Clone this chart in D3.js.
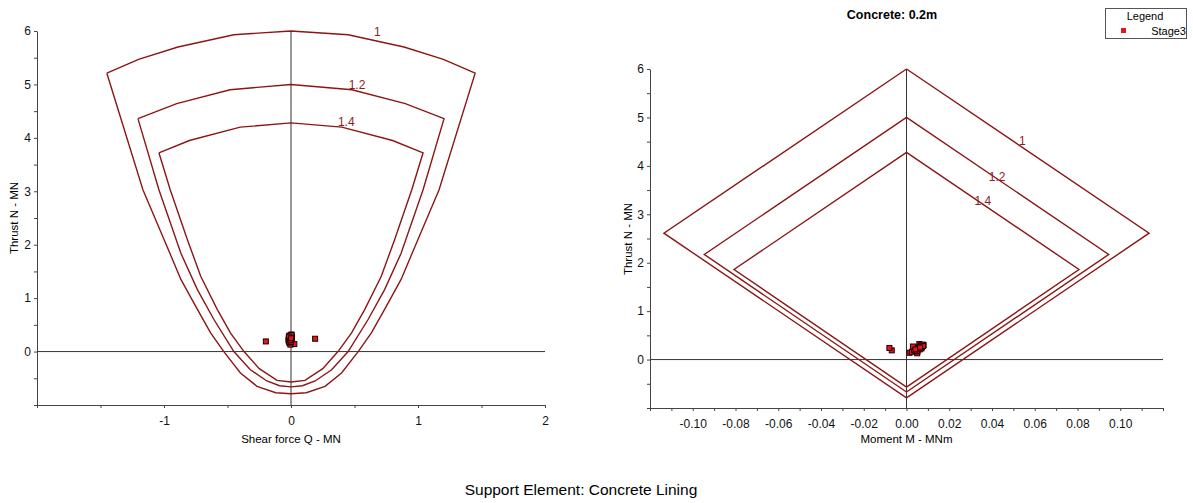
<!DOCTYPE html>
<html>
<head>
<meta charset="utf-8">
<style>
  body { margin: 0; background: #fff; }
  svg { display: block; font-family: "Liberation Sans", Arial, sans-serif; }
</style>
</head>
<body>
<svg width="1193" height="503"></svg>
<script src="https://cdn.jsdelivr.net/npm/d3@7"></script>
<script>

// Stage3 results (shear Q, moment M, thrust N) for each lining element
var stageQ = [-0.198, 0.19, 0.026, -0.010, -0.015, -0.005, 0.004, 0.008, -0.012, 0.002, -0.006, 0.006,
  0.000, -0.003, -0.018, -0.020, -0.008, 0.003, -0.013, -0.001, 0.005, -0.016, -0.004, 0.001];
var stageM = [-0.0069, -0.0080, 0.0014, 0.0025, 0.0040, 0.0050, 0.0060, 0.0072, 0.0080, 0.0045, 0.0055, 0.0065,
  0.0035, 0.0030, 0.0058, 0.0062, 0.0068, 0.0075, 0.0052, 0.0048, 0.0070, 0.0078, 0.0042, 0.0064];
var stageN = [0.19, 0.24, 0.14, 0.16, 0.19, 0.13, 0.32, 0.26, 0.30, 0.24, 0.22, 0.28,
  0.20, 0.27, 0.25, 0.21, 0.29, 0.31, 0.17, 0.18, 0.23, 0.28, 0.21, 0.25];

// capacity envelopes, shear vs thrust (factor of safety 1, 1.2, 1.4)
var shearFS1 = [[-1.45, 5.21], [-1.166, 3.03], [-0.998, 2.09], [-0.867, 1.35], [-0.737, 0.79], [-0.633, 0.35], [-0.529, 0.0],
  [-0.398, -0.40], [-0.268, -0.65], [-0.12, -0.77], [0, -0.79], [0.12, -0.77], [0.268, -0.65], [0.398, -0.40], [0.529, 0.0],
  [0.633, 0.35], [0.737, 0.79], [0.867, 1.35], [0.998, 2.09], [1.166, 3.03], [1.45, 5.21],
  [1.2, 5.47], [0.89, 5.70], [0.45, 5.93], [0, 6.0], [-0.45, 5.93], [-0.89, 5.70], [-1.2, 5.47], [-1.45, 5.21]];
var shearFS12 = [[-1.205, 4.36], [-1.04, 3.03], [-0.867, 1.84], [-0.737, 1.16], [-0.607, 0.60], [-0.45, 0.0],
  [-0.32, -0.34], [-0.19, -0.55], [-0.09, -0.64], [0, -0.66], [0.09, -0.64], [0.19, -0.55], [0.32, -0.34], [0.45, 0.0],
  [0.607, 0.60], [0.737, 1.16], [0.867, 1.84], [1.04, 3.03], [1.205, 4.36],
  [0.9, 4.64], [0.48, 4.90], [0, 5.0], [-0.48, 4.90], [-0.9, 4.64], [-1.205, 4.36]];
var shearFS14 = [[-1.04, 3.72], [-0.951, 3.03], [-0.815, 2.09], [-0.711, 1.41], [-0.581, 0.79], [-0.477, 0.35], [-0.37, 0.0],
  [-0.25, -0.32], [-0.11, -0.54], [0, -0.57], [0.11, -0.54], [0.25, -0.32], [0.37, 0.0], [0.477, 0.35],
  [0.581, 0.79], [0.711, 1.41], [0.815, 2.09], [0.951, 3.03], [1.04, 3.72],
  [0.8, 3.95], [0.4, 4.20], [0, 4.28], [-0.4, 4.20], [-0.8, 3.95], [-1.04, 3.72]];

// capacity envelopes, moment vs thrust
var momentFS1 = [[0, 6.0], [0.1135, 2.61], [0, -0.79], [-0.1135, 2.61], [0, 6.0]];
var momentFS12 = [[0, 5.0], [0.0946, 2.17], [0, -0.67], [-0.0946, 2.17], [0, 5.0]];
var momentFS14 = [[0, 4.28], [0.0807, 1.86], [0, -0.567], [-0.0807, 1.86], [0, 4.28]];

var fsLabels = ["1", "1.2", "1.4"];
var shearLabelAt = [[0.68, 5.9], [0.52, 4.92], [0.435, 4.23]];
var momentLabelAt = [[0.0542, 4.43], [0.0424, 3.69], [0.0357, 3.19]];

var nTicks = d3.range(-1, 6.001, 0.5);
var nLabels = [0, 1, 2, 3, 4, 5, 6];
var qTicks = d3.range(-2, 2.001, 0.5);
var qLabels = [-1, 0, 1, 2];
var mTicks = d3.range(-0.12, 0.1201, 0.01);
var mLabels = [-0.10, -0.08, -0.06, -0.04, -0.02, 0.00, 0.02, 0.04, 0.06, 0.08, 0.10];

var lineColor = "#8c1616";
var svg = d3.select("svg");

function panel(opts) {
  var x = d3.scaleLinear().domain(opts.xDomain).range(opts.xRange);
  var y = d3.scaleLinear().domain([-1, 6]).range(opts.yRange);
  var g = svg.append("g");

  function isLabel(list, fmt) {
    return function(d) {
      var hit = list.some(function(v) { return Math.abs(v - d) < 1e-9; });
      return hit ? fmt(d).replace("\u2212", "-") : "";
    };
  }

  var ax = g.append("g")
      .attr("transform", "translate(0," + opts.yRange[0] + ")")
      .call(d3.axisBottom(x).tickValues(opts.xTicks).tickSize(3).tickSizeOuter(0)
        .tickFormat(isLabel(opts.xLabels, opts.xFmt)));
  var ay = g.append("g")
      .attr("transform", "translate(" + opts.xRange[0] + ",0)")
      .call(d3.axisLeft(y).tickValues(nTicks).tickSize(3).tickSizeOuter(0)
        .tickFormat(isLabel(nLabels, d3.format("d"))));
  [ax, ay].forEach(function(a) {
    a.selectAll("path, line").attr("stroke", "#444");
    a.selectAll("text").attr("fill", "#111").style("font-size", "12px");
  });
  ax.selectAll("text").attr("dy", "1.2em");

  // zero lines
  g.append("line").attr("x1", x(0)).attr("x2", x(0)).attr("y1", opts.yRange[0]).attr("y2", opts.yRange[1])
      .attr("stroke", "#333").attr("stroke-width", 1);
  g.append("line").attr("x1", opts.xRange[0]).attr("x2", opts.xRange[1]).attr("y1", y(0)).attr("y2", y(0))
      .attr("stroke", "#333").attr("stroke-width", 1);

  var line = d3.line().x(function(d) { return x(d[0]); }).y(function(d) { return y(d[1]); });
  opts.envelopes.forEach(function(env) {
    g.append("path").datum(env)
        .attr("fill", "none")
        .attr("stroke", lineColor)
        .attr("stroke-width", 1.4)
        .attr("stroke-linejoin", "miter")
        .attr("d", line);
  });

  g.selectAll(".fs").data(fsLabels).enter().append("text")
      .attr("x", function(d, i) { return x(opts.labelAt[i][0]); })
      .attr("y", function(d, i) { return y(opts.labelAt[i][1]); })
      .attr("text-anchor", "middle")
      .attr("fill", "#8b1c2a")
      .style("font-size", "12px")
      .text(function(d) { return d; });

  g.selectAll(".pt").data(opts.px).enter().append("rect")
      .attr("x", function(d) { return x(d) - 2.5; })
      .attr("y", function(d, i) { return y(stageN[i]) - 2.5; })
      .attr("width", 5).attr("height", 5)
      .attr("fill", "#e5141e")
      .attr("stroke", "#1a0000")
      .attr("stroke-width", 1);

  g.append("text")
      .attr("x", (opts.xRange[0] + opts.xRange[1]) / 2)
      .attr("y", 443)
      .attr("text-anchor", "middle")
      .style("font-size", "11.5px")
      .text(opts.xTitle);

  g.append("text")
      .attr("transform", "translate(" + opts.yTitleX + "," + opts.yTitleY + ") rotate(-90)")
      .attr("text-anchor", "middle")
      .style("font-size", "11.5px")
      .text("Thrust N - MN");
}

panel({
  xDomain: [-2, 2], xRange: [37, 545], yRange: [405, 31],
  xTicks: qTicks, xLabels: qLabels, xFmt: d3.format("d"),
  envelopes: [shearFS1, shearFS12, shearFS14], labelAt: shearLabelAt,
  px: stageQ, xTitle: "Shear force Q - MN",
  yTitleX: 18, yTitleY: 218
});

panel({
  xDomain: [-0.12, 0.12], xRange: [650, 1163], yRange: [408, 69],
  xTicks: mTicks, xLabels: mLabels, xFmt: d3.format(".2f"),
  envelopes: [momentFS1, momentFS12, momentFS14], labelAt: momentLabelAt,
  px: stageM, xTitle: "Moment M - MNm",
  yTitleX: 632, yTitleY: 239
});

svg.append("text")
    .attr("x", 892).attr("y", 19)
    .attr("text-anchor", "middle")
    .style("font-size", "12.5px").style("font-weight", "bold")
    .text("Concrete: 0.2m");

var legend = svg.append("g");
legend.append("rect").attr("x", 1105.5).attr("y", 8.5).attr("width", 81).attr("height", 30)
    .attr("fill", "#fff").attr("stroke", "#555");
legend.append("text").attr("x", 1145).attr("y", 20).attr("text-anchor", "middle")
    .style("font-size", "11px").text("Legend");
legend.append("rect").attr("x", 1121).attr("y", 28).attr("width", 5).attr("height", 5).attr("fill", "#e5141e");
legend.append("text").attr("x", 1186).attr("y", 35).attr("text-anchor", "end")
    .style("font-size", "11px").text("Stage3");

svg.append("text")
    .attr("x", 581).attr("y", 495)
    .attr("text-anchor", "middle")
    .style("font-size", "15.5px")
    .text("Support Element: Concrete Lining");

</script>
</body>
</html>
